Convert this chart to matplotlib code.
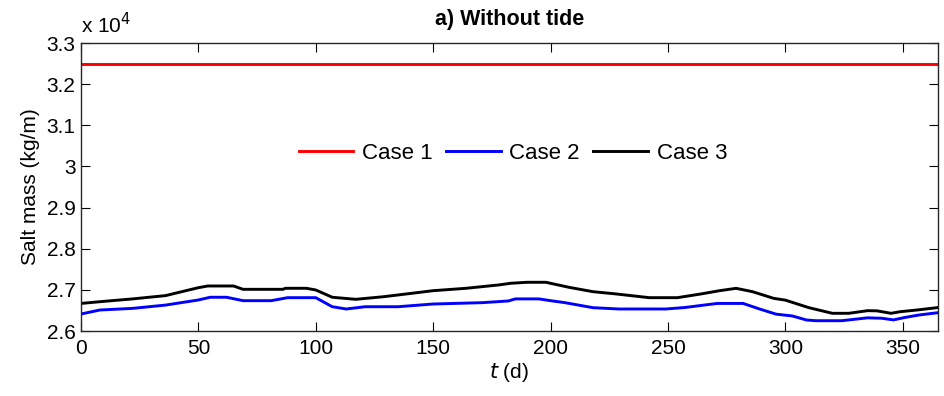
import matplotlib
matplotlib.use("Agg")
import matplotlib.pyplot as plt
import numpy as np

plt.rcParams["font.family"] = ["Liberation Sans", "DejaVu Sans"]

# salt mass in kg/m, read at the listed days
t_case1 = [0, 365]
m_case1 = [32500, 32500]

t_case2 = [0, 8, 22, 36, 50, 55, 62, 69, 81, 88, 100, 107, 113, 121, 135, 150, 171,
           182, 185, 195, 200, 206, 218, 229, 249, 257, 271, 282, 289, 296, 303,
           309, 313, 324, 335, 341, 346, 351, 357, 365]
m_case2 = [26413, 26510, 26550, 26630, 26754, 26820, 26820, 26737, 26737, 26810, 26810,
           26590, 26535, 26590, 26590, 26656, 26689, 26730, 26780, 26780, 26737, 26690,
           26567, 26535, 26535, 26570, 26670, 26670, 26535, 26410, 26365, 26267, 26250,
           26250, 26320, 26310, 26270, 26330, 26390, 26445]

t_case3 = [0, 8, 22, 36, 50, 54, 65, 69, 86, 87, 96, 100, 107, 117, 129, 150, 164,
           178, 183, 190, 198, 208, 218, 228, 242, 254, 264, 272, 279, 286, 295,
           300, 310, 320, 327, 335, 339, 345, 349, 356, 365]
m_case3 = [26670, 26712, 26780, 26860, 27053, 27094, 27094, 27013, 27013, 27038, 27038,
           26997, 26820, 26770, 26834, 26980, 27038, 27120, 27160, 27184, 27184, 27060,
           26956, 26900, 26810, 26810, 26900, 26980, 27037, 26956, 26794, 26750, 26567,
           26430, 26430, 26494, 26490, 26430, 26470, 26510, 26570]

xticks = [0, 50, 100, 150, 200, 250, 300, 350]
yticks = [2.6, 2.7, 2.8, 2.9, 3.0, 3.1, 3.2, 3.3]
scale = 1e4

fig = plt.figure(figsize=(9.44, 3.96), dpi=100)
ax = fig.add_axes([81 / 944, 1 - 331 / 396, (938 - 81) / 944, (331 - 43) / 396])

ax.plot(t_case1, np.array(m_case1) / scale, color="#ff0000", lw=2.1, label="Case 1")
ax.plot(t_case2, np.array(m_case2) / scale, color="#0000ff", lw=2.1, label="Case 2")
ax.plot(t_case3, np.array(m_case3) / scale, color="#000000", lw=2.1, label="Case 3")

ax.set_xlim(0, 365)
ax.set_ylim(2.6, 3.3)
ax.set_xticks(xticks)
ax.set_yticks(yticks)
ax.set_yticklabels([f"{v:g}" for v in yticks])
ax.tick_params(direction="in", length=6.5, width=0.8, top=True, right=True,
               labelsize=15)
ax.tick_params(axis="x", pad=6)
ax.tick_params(axis="y", pad=4)
for sp in ax.spines.values():
    sp.set_linewidth(1.0)
    sp.set_color("#262626")

ax.set_xlabel(r"$\mathit{t}$ (d)", fontsize=15, labelpad=2)
ax.set_ylabel("Salt mass (kg/m)", fontsize=15, labelpad=5)
ax.set_title("a) Without tide", fontsize=15.5, fontweight="bold", pad=13)
ax.text(0.0, 1.02, r"x 10$^4$", transform=ax.transAxes, fontsize=15,
        ha="left", va="bottom")

ax.legend(loc="center", bbox_to_anchor=(0.504, 0.618), ncol=3, frameon=False,
          fontsize=16, handlelength=2.45, columnspacing=0.6, handletextpad=0.4)

fig.savefig("out.png", dpi=100)
